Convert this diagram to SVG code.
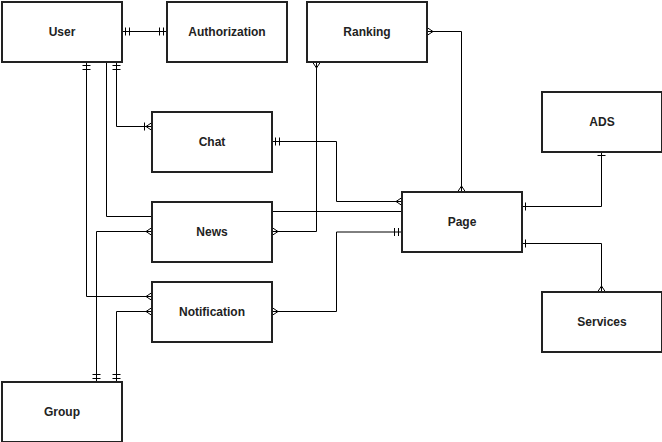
<svg xmlns="http://www.w3.org/2000/svg" width="662" height="442" viewBox="0 0 662 442">
<style>
.box{fill:#fff;stroke:#222;stroke-width:2}
.lbl{font-family:"Liberation Sans",Arial,sans-serif;font-size:12px;font-weight:bold;fill:#222;text-anchor:middle}
.edge{fill:none;stroke:#000;stroke-width:1}
.mk{fill:none;stroke:#000;stroke-width:1}
</style>
<defs>
<marker id="mandOne" markerUnits="userSpaceOnUse" markerWidth="20" markerHeight="20" viewBox="-10 -10 20 20" refX="0" refY="0" orient="auto-start-reverse" overflow="visible">
<path class="mk" d="M-3.5,-4V4M-7.5,-4V4"/>
</marker>
<marker id="one" markerUnits="userSpaceOnUse" markerWidth="20" markerHeight="20" viewBox="-10 -10 20 20" refX="0" refY="0" orient="auto-start-reverse" overflow="visible">
<path class="mk" d="M-3.5,-4V4"/>
</marker>
<marker id="many" markerUnits="userSpaceOnUse" markerWidth="20" markerHeight="20" viewBox="-10 -10 20 20" refX="0" refY="0" orient="auto-start-reverse" overflow="visible">
<path class="mk" d="M0,-4L-6,0L0,4"/>
</marker>
<marker id="oneMany" markerUnits="userSpaceOnUse" markerWidth="20" markerHeight="20" viewBox="-10 -10 20 20" refX="0" refY="0" orient="auto-start-reverse" overflow="visible">
<path class="mk" d="M0,-4L-6,0L0,4M-7.5,-4V4"/>
</marker>
</defs>
<g id="connectors">
<path class="edge" d="M122 31.5H167" marker-start="url(#mandOne)" marker-end="url(#mandOne)"/>
<path class="edge" d="M116.5 62V126.5H152" marker-start="url(#mandOne)" marker-end="url(#oneMany)"/>
<path class="edge" d="M106.5 62V216.5H152"/>
<path class="edge" d="M86.5 62V296.5H152" marker-start="url(#mandOne)" marker-end="url(#many)"/>
<path class="edge" d="M96.5 382V231.5H152" marker-start="url(#mandOne)" marker-end="url(#many)"/>
<path class="edge" d="M116.5 382V311.5H152" marker-start="url(#mandOne)" marker-end="url(#many)"/>
<path class="edge" d="M272 141.5H336.5V201.5H402" marker-start="url(#mandOne)" marker-end="url(#many)"/>
<path class="edge" d="M272 211.5H402"/>
<path class="edge" d="M316.5 62V231.5H272" marker-start="url(#many)" marker-end="url(#many)"/>
<path class="edge" d="M427 31.5H461.5V192" marker-start="url(#many)" marker-end="url(#many)"/>
<path class="edge" d="M272 311.5H336.5V232H402" marker-start="url(#many)" marker-end="url(#mandOne)"/>
<path class="edge" d="M522 206.5H601.5V152" marker-start="url(#one)" marker-end="url(#one)"/>
<path class="edge" d="M522 243.5H601.5V292" marker-start="url(#one)" marker-end="url(#many)"/>
</g>
<g id="user"><rect class="box" x="2" y="2" width="120" height="60"/><text class="lbl" x="62" y="36">User</text></g>
<g id="authorization"><rect class="box" x="167" y="2" width="120" height="60"/><text class="lbl" x="227" y="36">Authorization</text></g>
<g id="ranking"><rect class="box" x="307" y="2" width="120" height="60"/><text class="lbl" x="367" y="36">Ranking</text></g>
<g id="chat"><rect class="box" x="152" y="112" width="120" height="60"/><text class="lbl" x="212" y="146">Chat</text></g>
<g id="news"><rect class="box" x="152" y="202" width="120" height="60"/><text class="lbl" x="212" y="236">News</text></g>
<g id="notification"><rect class="box" x="152" y="282" width="120" height="60"/><text class="lbl" x="212" y="316">Notification</text></g>
<g id="page"><rect class="box" x="402" y="192" width="120" height="60"/><text class="lbl" x="462" y="226">Page</text></g>
<g id="ads"><rect class="box" x="542" y="92" width="120" height="60"/><text class="lbl" x="602" y="126">ADS</text></g>
<g id="services"><rect class="box" x="542" y="292" width="120" height="60"/><text class="lbl" x="602" y="326">Services</text></g>
<g id="group"><rect class="box" x="2" y="382" width="120" height="60"/><text class="lbl" x="62" y="416">Group</text></g>
</svg>
